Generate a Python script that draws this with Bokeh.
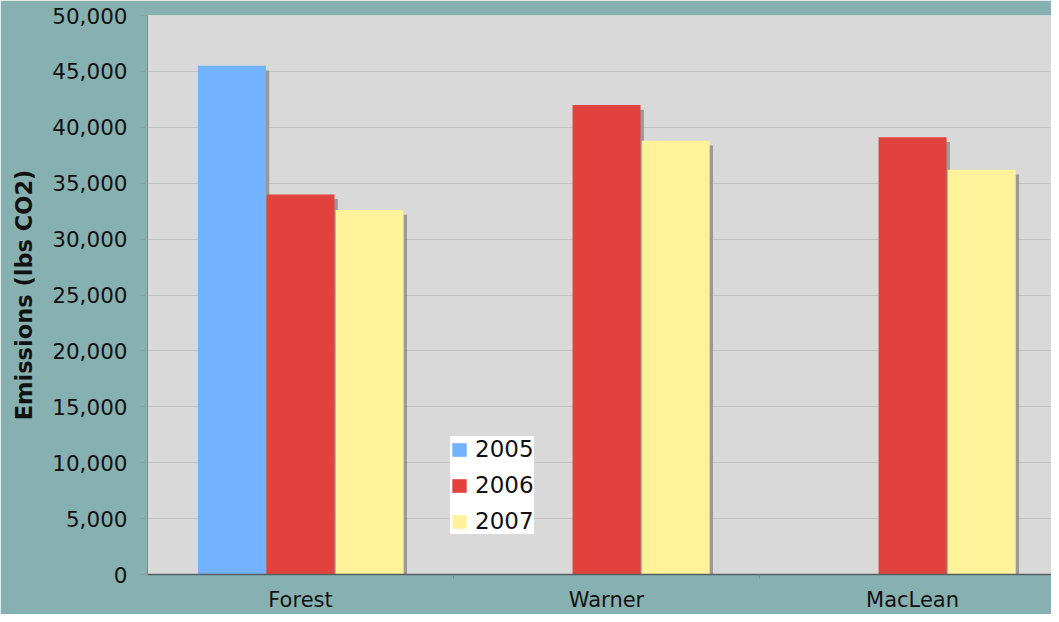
from bokeh.plotting import figure
from bokeh.models import ColumnDataSource, FixedTicker, NumeralTickFormatter, Range1d, Legend, LegendItem
from bokeh.transform import dodge
from bokeh.embed import file_html
from bokeh.resources import INLINE

categories = ["Forest", "Warner", "MacLean"]
years = ["2005", "2006", "2007"]
y2005 = [45500, float("nan"), float("nan")]
y2006 = [34000, 42000, 39100]
y2007 = [32600, 38800, 36200]
colors = ["#72b2fe", "#e2423d", "#fff29b"]

idx = list(range(len(categories)))
src = ColumnDataSource(dict(idx=idx, cat=categories, y2005=y2005, y2006=y2006, y2007=y2007))

BG = "#87b1b1"
p = figure(width=1051, height=614, output_backend="svg", toolbar_location=None,
           x_range=Range1d(-0.5, 2.454), y_range=Range1d(0, 50000),
           min_border_left=147, min_border_top=15, min_border_bottom=39, min_border_right=0)
p.background_fill_color = "#d9d9d9"
p.border_fill_color = BG
p.outline_line_color = None

bw = 0.222
offs = [-0.224, 0.0, 0.226]
fields = ["y2005", "y2006", "y2007"]
shadow_dx = 0.011
shadow_dy = 420

# shadows
for f, o in zip(fields, offs):
    sh = dict(idx=[i + o + shadow_dx for i in idx], top=[v - shadow_dy for v in src.data[f]])
    p.vbar(x="idx", top="top", bottom=0, width=bw, source=ColumnDataSource(sh),
           fill_color="#8a8a8a", fill_alpha=0.8, line_color=None)

items = []
for f, o, c, yr in zip(fields, offs, colors, years):
    r = p.vbar(x=dodge("idx", o), top=f, bottom=0, width=bw, source=src,
               fill_color=c, line_color=None)
    items.append(LegendItem(label=yr, renderers=[r]))

legend = Legend(items=items, location=(303, 40), background_fill_color="white",
                background_fill_alpha=1, border_line_color=None,
                label_text_font="DejaVu Sans", label_text_font_size="23px",
                label_text_color="#111111",
                glyph_width=18, glyph_height=17, spacing=10, padding=8, margin=0,
                label_standoff=7, label_height=22)
p.add_layout(legend, "center")

# y axis
p.yaxis.ticker = FixedTicker(ticks=list(range(0, 50001, 5000)))
p.yaxis.formatter = NumeralTickFormatter(format="0,0")
p.yaxis.major_label_text_font = "DejaVu Sans"
p.yaxis.major_label_text_font_size = "21.5px"
p.yaxis.major_label_text_color = "#111111"
p.yaxis.major_tick_out = 7
p.yaxis.major_tick_in = 0
p.yaxis.minor_tick_line_color = None
p.yaxis.major_tick_line_color = "#8f9f9f"
p.yaxis.axis_line_color = "#7a8a8a"
p.yaxis.major_label_standoff = 13
p.yaxis.axis_label = "Emissions (lbs CO2)"
p.yaxis.axis_label_text_font = "DejaVu Sans"
p.yaxis.axis_label_text_font_style = "bold"
p.yaxis.axis_label_text_font_size = "22.5px"
p.yaxis.axis_label_text_color = "#111111"
p.yaxis.axis_label_standoff = 12

# x axis
p.xaxis.ticker = FixedTicker(ticks=idx, minor_ticks=[i + 0.5 for i in idx])
p.xaxis.major_label_overrides = {i: c for i, c in zip(idx, categories)}
p.xaxis.major_label_text_font = "DejaVu Sans"
p.xaxis.major_label_text_font_size = "21px"
p.xaxis.major_label_text_color = "#111111"
p.xaxis.major_tick_line_color = None
p.xaxis.major_tick_out = 0
p.xaxis.major_tick_in = 0
p.xaxis.minor_tick_out = 4
p.xaxis.minor_tick_in = 0
p.xaxis.minor_tick_line_color = "#7a8a8a"
p.xaxis.axis_line_color = "#555f5f"
p.xaxis.axis_line_width = 1.5
p.xaxis.major_label_standoff = 9

p.xgrid.grid_line_color = None
p.ygrid.grid_line_color = "#c2c2c2"

open("out.html", "w").write(file_html(p, INLINE))
